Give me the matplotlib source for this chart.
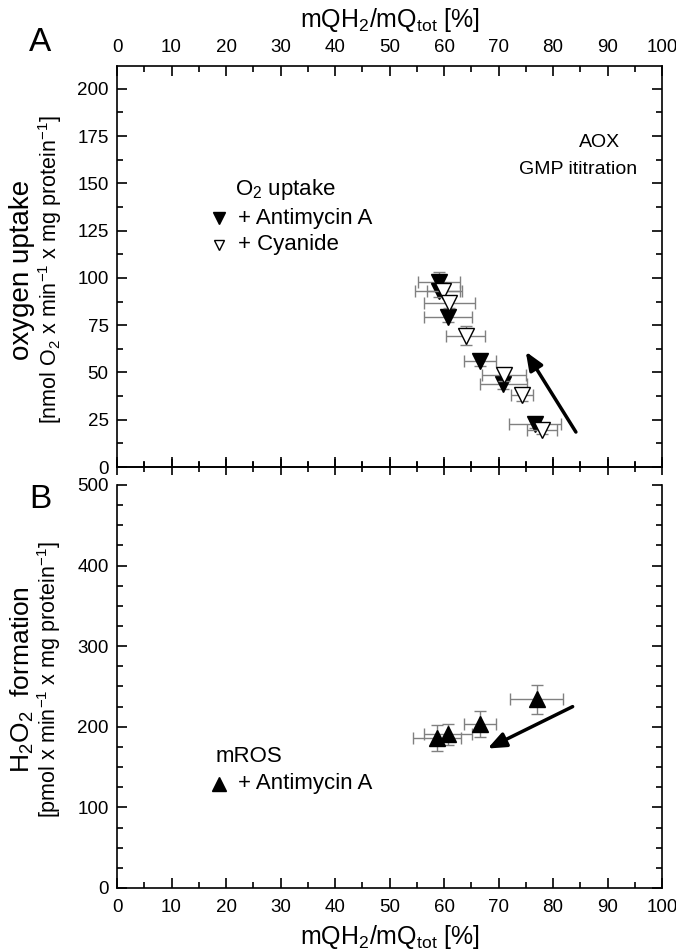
import matplotlib
matplotlib.use("Agg")
import matplotlib.pyplot as plt
from matplotlib.lines import Line2D
from matplotlib.ticker import MultipleLocator

plt.rcParams["font.family"] = ["Liberation Sans", "DejaVu Sans"]
plt.rcParams["mathtext.fontset"] = "custom"
plt.rcParams["mathtext.rm"] = "Liberation Sans"
plt.rcParams["mathtext.it"] = "Liberation Sans:italic"

# ---- panel A: oxygen uptake vs mQH2/mQtot --------------------------------
anti_x = [59.1, 59.0, 60.8, 66.6, 70.9, 76.7]
anti_y = [98.0, 93.0, 79.5, 56.0, 44.0, 22.5]
anti_xerr = [3.9, 4.3, 4.4, 3.0, 4.3, 4.8]
anti_yerr = [5.0, 3.0, 3.0, 2.5, 2.5, 2.0]

cyan_x = [59.9, 61.0, 64.0, 71.0, 74.3, 78.0]
cyan_y = [93.0, 86.5, 69.5, 48.5, 38.0, 19.5]
cyan_xerr = [3.1, 4.6, 3.6, 4.0, 2.0, 2.8]
cyan_yerr = [3.0, 2.5, 5.0, 3.0, 3.0, 2.0]

arrow_a = [(84.2, 18.5), (75.0, 61.0)]

# ---- panel B: H2O2 formation ---------------------------------------------
ros_x = [58.8, 60.8, 66.6, 77.0]
ros_y = [186, 191, 203, 234]
ros_xerr = [4.4, 4.4, 3.0, 4.8]
ros_yerr = [16, 13, 16, 18]

arrow_b = [(83.6, 225), (68.0, 173)]

xlabel = r"mQH$_{\mathregular{2}}$/mQ$_{\mathregular{tot}}$ [%]"

fig = plt.figure(figsize=(6.76, 9.5), dpi=100)
ax1 = fig.add_axes([0.1731, 0.5084, 0.8062, 0.4221])
ax2 = fig.add_axes([0.1731, 0.0653, 0.8062, 0.4242])

ebar_kw = dict(ecolor="#808080", elinewidth=1.0, capsize=4, capthick=1.0, linestyle="none")

ax1.errorbar(anti_x, anti_y, xerr=anti_xerr, yerr=anti_yerr, marker="v",
             markersize=11, mfc="black", mec="black", zorder=3, **ebar_kw)
ax1.errorbar(cyan_x, cyan_y, xerr=cyan_xerr, yerr=cyan_yerr, marker="v",
             markersize=11, mfc="white", mec="black", mew=1.0, zorder=4, **ebar_kw)
ax1.annotate("", xy=arrow_a[1], xytext=arrow_a[0],
             arrowprops=dict(arrowstyle="-|>,head_width=0.45,head_length=1.1",
                             lw=2.5, color="black", shrinkA=0, shrinkB=0))

ax2.errorbar(ros_x, ros_y, xerr=ros_xerr, yerr=ros_yerr, marker="^",
             markersize=11, mfc="black", mec="black", zorder=3, **ebar_kw)
ax2.annotate("", xy=arrow_b[1], xytext=arrow_b[0],
             arrowprops=dict(arrowstyle="-|>,head_width=0.45,head_length=1.1",
                             lw=2.5, color="black", shrinkA=0, shrinkB=0))

# axes styling
for ax in (ax1, ax2):
    ax.set_xlim(0, 100)
    ax.xaxis.set_major_locator(MultipleLocator(10))
    ax.xaxis.set_minor_locator(MultipleLocator(5))
    for s in ax.spines.values():
        s.set_linewidth(1.2)
    ax.tick_params(which="both", width=1.2, labelsize=13.5, pad=6)
    ax.tick_params(which="major", length=7)
    ax.tick_params(which="minor", length=4)

ax1.set_ylim(0, 212)
ax1.yaxis.set_major_locator(MultipleLocator(25))
ax1.yaxis.set_minor_locator(MultipleLocator(12.5))
ax1.xaxis.tick_top()
ax1.tick_params(axis="x", which="both", direction="in", top=True, bottom=True,
                labeltop=True, labelbottom=False, pad=7)
ax1.tick_params(axis="y", which="both", direction="in", left=True, right=True)
ax1.xaxis.set_label_position("top")
ax1.set_xlabel(xlabel, fontsize=18, labelpad=9)

# bottom axis of panel A: ticks cross the spine
ax1b = ax1.secondary_xaxis("bottom")
ax1b.xaxis.set_major_locator(MultipleLocator(10))
ax1b.xaxis.set_minor_locator(MultipleLocator(5))
ax1b.tick_params(which="both", direction="inout", width=1.2, labelbottom=False)
ax1b.tick_params(which="major", length=11)
ax1b.tick_params(which="minor", length=7)
ax1b.spines["bottom"].set_linewidth(1.2)

ax2.set_ylim(0, 500)
ax2.yaxis.set_major_locator(MultipleLocator(100))
ax2.yaxis.set_minor_locator(MultipleLocator(25))
ax2.spines["top"].set_visible(False)
ax2.tick_params(axis="x", which="both", direction="in", top=False, pad=8)
ax2.tick_params(axis="y", which="both", direction="in", left=True, right=True)
ax2.set_xlabel(xlabel, fontsize=18, labelpad=5)

# y labels
fig.text(0.033, 0.716, "oxygen uptake", rotation=90, fontsize=20,
         ha="center", va="center")
fig.text(0.074, 0.716,
         r"[nmol O$_{\mathregular{2}}$ x min$^{\mathregular{-1}}$ x mg protein$^{\mathregular{-1}}$]",
         rotation=90, fontsize=15.5, ha="center", va="center")
fig.text(0.033, 0.285, r"H$_{\mathregular{2}}$O$_{\mathregular{2}}$  formation",
         rotation=90, fontsize=19, ha="center", va="center")
fig.text(0.072, 0.285,
         r"[pmol x min$^{\mathregular{-1}}$ x mg protein$^{\mathregular{-1}}$]",
         rotation=90, fontsize=15.5, ha="center", va="center")

# panel letters
fig.text(0.06, 0.955, "A", fontsize=24, ha="center", va="center")
fig.text(0.06, 0.474, "B", fontsize=24, ha="center", va="center")

# annotations in panel A
ax1.text(0.886, 0.81, "AOX", transform=ax1.transAxes, fontsize=14,
         ha="center", va="center")
ax1.text(0.846, 0.741, "GMP ititration", transform=ax1.transAxes, fontsize=14,
         ha="center", va="center")
ax1.text(0.216, 0.691, r"O$_{\mathregular{2}}$ uptake", transform=ax1.transAxes,
         fontsize=16, ha="left", va="center")
ax1.add_line(Line2D([0.187], [0.621], marker="v", markersize=8, color="black",
                    transform=ax1.transAxes, linestyle="none"))
ax1.text(0.222, 0.621, "+ Antimycin A", transform=ax1.transAxes,
         fontsize=16, ha="left", va="center")
ax1.add_line(Line2D([0.187], [0.554], marker="v", markersize=7, mfc="white",
                    mec="black", transform=ax1.transAxes, linestyle="none"))
ax1.text(0.222, 0.554, "+ Cyanide", transform=ax1.transAxes,
         fontsize=16, ha="left", va="center")

# annotations in panel B
ax2.text(0.180, 0.325, "mROS", transform=ax2.transAxes, fontsize=16,
         ha="left", va="center")
ax2.add_line(Line2D([0.187], [0.258], marker="^", markersize=10, color="black",
                    transform=ax2.transAxes, linestyle="none"))
ax2.text(0.222, 0.258, "+ Antimycin A", transform=ax2.transAxes,
         fontsize=16, ha="left", va="center")

fig.savefig("out.png", dpi=100)
